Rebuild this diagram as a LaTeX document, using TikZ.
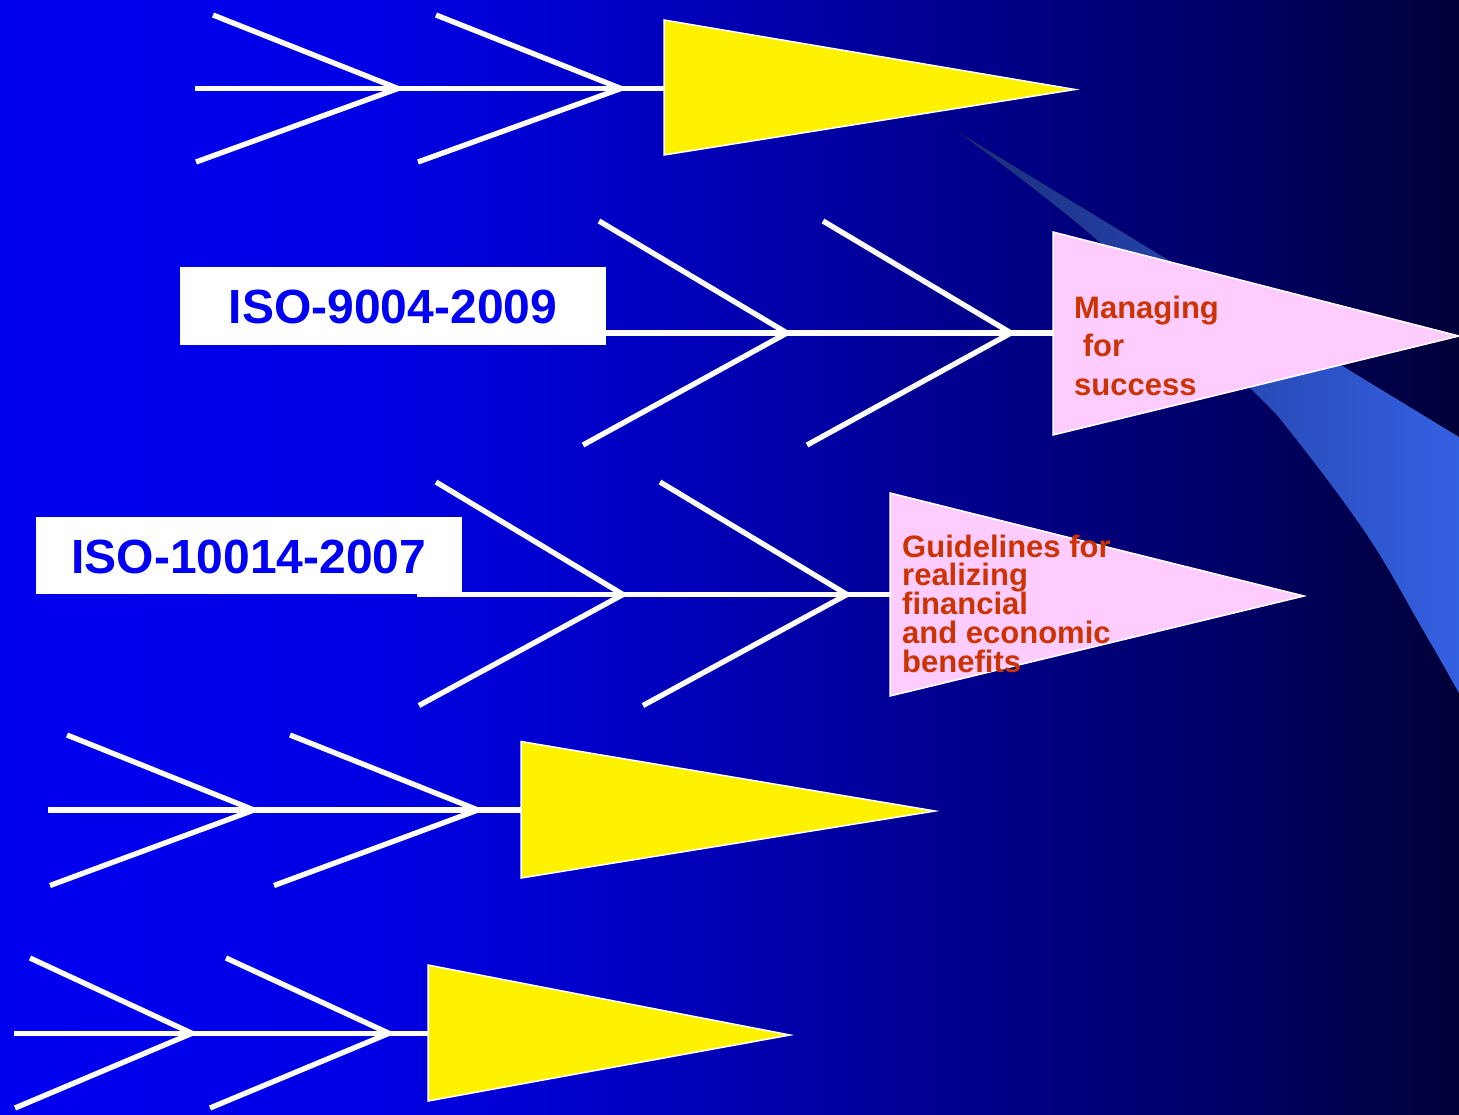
\documentclass[tikz,border=0pt]{standalone}
\usepackage{fontspec}
\setmainfont{Liberation Sans}
\definecolor{isoblue}{RGB}{0,0,245}
\definecolor{pinkF}{RGB}{255,204,255}
\definecolor{txtred}{RGB}{204,51,0}
\definecolor{swL}{RGB}{25,45,125}
\definecolor{swR}{RGB}{52,96,226}
\pgfdeclarehorizontalshading{bgshade}{100bp}{rgb(0bp)=(0,0,0.94); rgb(25bp)=(0,0,0.94); rgb(38bp)=(0,0,0.895); rgb(44.5bp)=(0,0,0.80); rgb(55.8bp)=(0,0,0.59); rgb(61.7bp)=(0,0,0.49); rgb(67.8bp)=(0,0,0.39); rgb(75bp)=(0,0,0.22); rgb(100bp)=(0,0,0.22)}
\newcommand{\tightlines}{\lineskiplimit=-50pt\relax}
\begin{document}
\begin{tikzpicture}[x=1pt,y=-1pt,
  bone/.style={draw=white,line width=5.3pt},
  yarrow/.style={fill=yellow,draw=white,line width=1.5pt},
  parrow/.style={fill=pinkF,draw=white,line width=1.5pt},
  isobox/.style={fill=white,inner sep=0pt,minimum width=426pt,minimum height=77.5pt,
    text height=35pt,text depth=0pt,text=isoblue,font=\fontsize{48}{58}\selectfont\bfseries},
  ptext/.style={inner sep=0pt,anchor=north west,align=left,text=txtred}
]
\useasboundingbox (0,0) rectangle (1459,1114);
\shade[shading=bgshade] (0,0) rectangle (1459,1114);

% swoosh
\coordinate (swtip) at (958,132);
\fill[left color=swL,right color=swR] (swtip) -- (1459,437) -- (1459,693)
  -- plot[smooth,tension=0.6] coordinates {(1459,693) (1423,630) (1367,535) (1292,434) (1250,388) (1097,240) (958,132)} -- cycle;

% ---------- row 1
\coordinate (r1s) at (195,88.5);
\coordinate (r1v1) at (398,88.5);
\coordinate (r1v2) at (621,88.5);
\coordinate (r1u1) at (213,15);
\coordinate (r1l1) at (196,162);
\coordinate (r1u2) at (436,15);
\coordinate (r1l2) at (418,162);
\coordinate (r1t) at (664,20);
\coordinate (r1p) at (1075,89.5);
\coordinate (r1b) at (664,155);
\coordinate (r1e) at (664,88.5);
\draw[bone] (r1s) -- (r1e);
\draw[bone] (r1u1) -- (r1v1) -- (r1l1);
\draw[bone] (r1u2) -- (r1v2) -- (r1l2);
\draw[yarrow] (r1t) -- (r1p) -- (r1b) -- cycle;

% ---------- row 2
\node[isobox] (iso1) at (393,305.75) {ISO-9004-2009};
\coordinate (r2s) at (606,333);
\coordinate (r2v1) at (787,333);
\coordinate (r2v2) at (1011,333);
\coordinate (r2u1) at (599,221);
\coordinate (r2l1) at (583,445);
\coordinate (r2u2) at (823,221);
\coordinate (r2l2) at (807,445);
\coordinate (r2t) at (1053,232);
\coordinate (r2p) at (1459,336);
\coordinate (r2b) at (1053,435);
\coordinate (r2e) at (1053,333);
\draw[bone] (r2s) -- (r2e);
\draw[bone] (r2u1) -- (r2v1) -- (r2l1);
\draw[bone] (r2u2) -- (r2v2) -- (r2l2);
\draw[parrow] (r2t) -- (r2p) -- (r2b) -- cycle;
\node[ptext,font=\fontsize{31}{38.5}\selectfont\bfseries] (txt1) at (1074,295.5)
  {Managing\\\hspace*{0.28em}for\\success};

% ---------- row 3
\coordinate (r3s) at (417,594.5);
\coordinate (r3v1) at (623,594.5);
\coordinate (r3v2) at (847,594.5);
\coordinate (r3u1) at (436,482);
\coordinate (r3l1) at (419,705.5);
\coordinate (r3u2) at (660,482);
\coordinate (r3l2) at (643,705.5);
\coordinate (r3t) at (890,493);
\coordinate (r3p) at (1304,596);
\coordinate (r3b) at (890,696);
\coordinate (r3e) at (890,594.5);
\draw[bone] (r3s) -- (r3e);
\node[isobox,minimum width=425.7pt,minimum height=76.8pt,text height=37pt] (iso2) at (248.9,555.1) {ISO-10014-2007};
\draw[bone] (r3u1) -- (r3v1) -- (r3l1);
\draw[bone] (r3u2) -- (r3v2) -- (r3l2);
\draw[parrow] (r3t) -- (r3p) -- (r3b) -- cycle;
\node[ptext,font=\fontsize{31}{28.8}\selectfont\bfseries\tightlines] (txt2) at (902,534.5)
  {Guidelines for\\realizing\\financial\\and economic\\benefits};

% ---------- row 4
\coordinate (r4s) at (48,810);
\coordinate (r4v1) at (254,810);
\coordinate (r4v2) at (478,810);
\coordinate (r4u1) at (67,735);
\coordinate (r4l1) at (50,885.5);
\coordinate (r4u2) at (290,735);
\coordinate (r4l2) at (274,885.5);
\coordinate (r4t) at (521,741.5);
\coordinate (r4p) at (935,811);
\coordinate (r4b) at (521,878);
\coordinate (r4e) at (521,810);
\draw[bone] (r4s) -- (r4e);
\draw[bone] (r4u1) -- (r4v1) -- (r4l1);
\draw[bone] (r4u2) -- (r4v2) -- (r4l2);
\draw[yarrow] (r4t) -- (r4p) -- (r4b) -- cycle;

% ---------- row 5
\coordinate (r5s) at (14,1033.3);
\coordinate (r5v1) at (192,1033.3);
\coordinate (r5v2) at (389,1033.3);
\coordinate (r5u1) at (30,958);
\coordinate (r5l1) at (15,1108);
\coordinate (r5u2) at (226,958);
\coordinate (r5l2) at (210,1108);
\coordinate (r5t) at (428,965);
\coordinate (r5p) at (790,1035);
\coordinate (r5b) at (428,1101);
\coordinate (r5e) at (428,1033.3);
\draw[bone] (r5s) -- (r5e);
\draw[bone] (r5u1) -- (r5v1) -- (r5l1);
\draw[bone] (r5u2) -- (r5v2) -- (r5l2);
\draw[yarrow] (r5t) -- (r5p) -- (r5b) -- cycle;
\end{tikzpicture}
\end{document}
